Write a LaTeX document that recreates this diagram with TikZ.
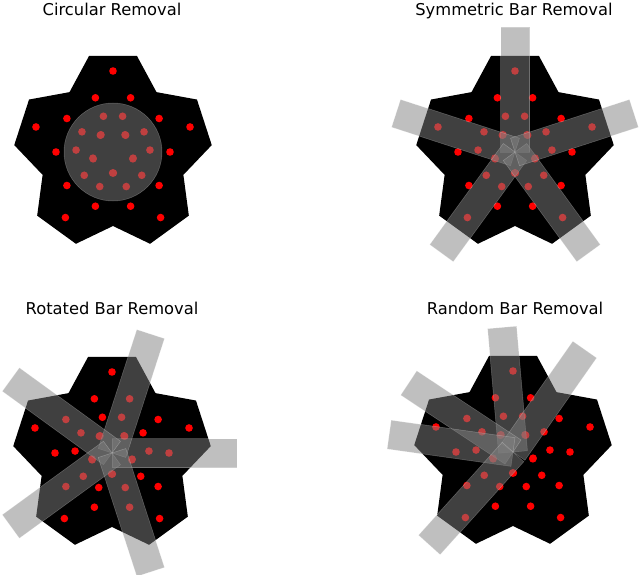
\documentclass[tikz,border=0pt]{standalone}
\usepackage{fontspec}
\setmainfont{DejaVu Sans}
\tikzset{
  dot/.style={fill=red},
  cutout/.style={fill=gray, fill opacity=0.5, draw=white, draw opacity=0.25, line width=0.5pt},
  paneltitle/.style={anchor=base, font=\fontsize{16.3}{19}\selectfont},
  pics/flower/.style={code={
    % black five-armed shape
    \fill[black] (76:99) \foreach \k in {0,...,4} { -- ({76+72*\k}:99) -- ({104+72*\k}:99) -- ({126+72*\k}:74) } -- cycle;
    % red points
    \foreach \a in {18,90,162,234,306} { \fill[dot] (\a:81) circle (3.8); }
    \foreach \a in {0,36,...,324} { \fill[dot] (\a:57) circle (3.8); }
    \foreach \a in {3,33,75,105,147,177,219,249,291,321} { \fill[dot] (\a:37) circle (3.8); }
    \foreach \a in {53,55,125,127,197,199,269,271,341,343} { \fill[dot] (\a:21) circle (3.8); }
  }}
}
\begin{document}
\begin{tikzpicture}[x=1pt, y=1pt]
  \useasboundingbox (0,-575) rectangle (640,0);
  % titles
  \node[paneltitle] (t1) at (112,-15.5) {Circular Removal};
  \node[paneltitle] (t2) at (514,-15.5) {Symmetric Bar Removal};
  \node[paneltitle] (t3) at (112,-314) {Rotated Bar Removal};
  \node[paneltitle] (t4) at (515,-314) {Random Bar Removal};
  % circular removal
  \pic at (113,-152) {flower};
  \filldraw[cutout] (113,-152) circle (49);
  % symmetric bars
  \pic at (515,-152) {flower};
  \begin{scope}[shift={(515,-152)}]
    \foreach \a in {90,162,234,306,378} { \filldraw[cutout, rotate=\a] (0,-14.5) rectangle (125,14.5); }
  \end{scope}
  % rotated bars
  \pic at (112,-453) {flower};
  \begin{scope}[shift={(112,-453)}]
    \foreach \a in {0,72,144,216,288} { \filldraw[cutout, rotate=\a] (0,-14.5) rectangle (125,14.5); }
  \end{scope}
  % random bars
  \pic at (513,-452) {flower};
  \begin{scope}[shift={(513,-452)}]
    \foreach \a in {95,55,146.5,172,228} { \filldraw[cutout, rotate=\a] (0,-14.5) rectangle (125,14.5); }
  \end{scope}
\end{tikzpicture}
\end{document}
